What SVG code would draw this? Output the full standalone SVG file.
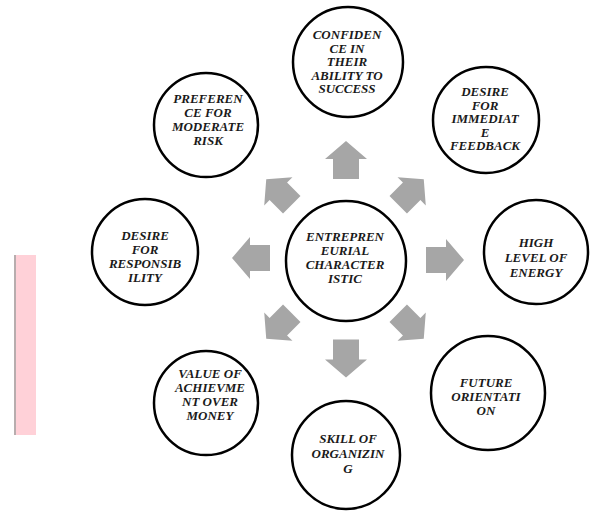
<svg xmlns="http://www.w3.org/2000/svg" xmlns:xlink="http://www.w3.org/1999/xlink" width="590" height="511" viewBox="0 0 590 511">
<style>
.node circle{fill:#fff;stroke:#000;stroke-width:2.5}
.node text{font-family:"Liberation Serif","Times New Roman",serif;font-style:italic;font-weight:bold;font-size:13px;fill:#1a1a1a;text-anchor:middle}
.arr{fill:#a6a6a6}
</style>
<defs>
<polygon id="a" points="0,-19 21,-1 13,-1 13,19 -13,19 -13,-1 -21,-1"/>
</defs>
<rect width="590" height="511" fill="#fff"/>
<g id="sidebar">
<rect x="14" y="255" width="22" height="180" fill="#ffd1d8"/>
<line x1="15" y1="255" x2="15" y2="435" stroke="#a0a0a0" stroke-width="1.5"/>
</g>
<g id="connectors" class="arr">
<use xlink:href="#a" transform="translate(346,160)"/>
<use xlink:href="#a" transform="translate(346,358.5) rotate(180)"/>
<use xlink:href="#a" transform="translate(445,260) rotate(90)"/>
<use xlink:href="#a" transform="translate(251,258) rotate(-90)"/>
<use xlink:href="#a" transform="translate(279,192) rotate(-45) scale(0.95)"/>
<use xlink:href="#a" transform="translate(411,192) rotate(45) scale(0.95)"/>
<use xlink:href="#a" transform="translate(279,326) rotate(-135) scale(0.95)"/>
<use xlink:href="#a" transform="translate(411,326) rotate(135) scale(0.95)"/>
</g>
<g id="center" class="node">
<circle cx="346" cy="261" r="60"/>
<text x="345" y="241">ENTREPREN</text>
<text x="345" y="255">EURIAL</text>
<text x="345" y="269">CHARACTER</text>
<text x="345" y="283">ISTIC</text>
</g>
<g id="confidence" class="node">
<circle cx="348" cy="62" r="55"/>
<text x="347" y="39">CONFIDEN</text>
<text x="347" y="52.5">CE IN</text>
<text x="347" y="66">THEIR</text>
<text x="347" y="79.5">ABILITY TO</text>
<text x="347" y="93">SUCCESS</text>
</g>
<g id="feedback" class="node">
<circle cx="486" cy="120" r="53"/>
<text x="485" y="96">DESIRE</text>
<text x="485" y="109.5">FOR</text>
<text x="485" y="123">IMMEDIAT</text>
<text x="485" y="136.5">E</text>
<text x="485" y="150">FEEDBACK</text>
</g>
<g id="energy" class="node">
<circle cx="536" cy="252" r="52"/>
<text x="536" y="247">HIGH</text>
<text x="536" y="262">LEVEL OF</text>
<text x="536" y="277">ENERGY</text>
</g>
<g id="future" class="node">
<circle cx="488" cy="393" r="57"/>
<text x="486" y="387">FUTURE</text>
<text x="486" y="401">ORIENTATI</text>
<text x="486" y="415">ON</text>
</g>
<g id="organizing" class="node">
<circle cx="346" cy="455" r="54"/>
<text x="348" y="443">SKILL OF</text>
<text x="348" y="458">ORGANIZIN</text>
<text x="348" y="473">G</text>
</g>
<g id="achievement" class="node">
<circle cx="206" cy="403" r="52"/>
<text x="210" y="378">VALUE OF</text>
<text x="210" y="392">ACHIEVME</text>
<text x="210" y="406">NT OVER</text>
<text x="210" y="420">MONEY</text>
</g>
<g id="responsibility" class="node">
<circle cx="145" cy="252" r="53"/>
<text x="145" y="240">DESIRE</text>
<text x="145" y="254">FOR</text>
<text x="145" y="268">RESPONSIB</text>
<text x="145" y="282">ILITY</text>
</g>
<g id="risk" class="node">
<circle cx="206" cy="125" r="52"/>
<text x="208" y="103">PREFEREN</text>
<text x="208" y="117">CE FOR</text>
<text x="208" y="131">MODERATE</text>
<text x="208" y="145">RISK</text>
</g>
</svg>
